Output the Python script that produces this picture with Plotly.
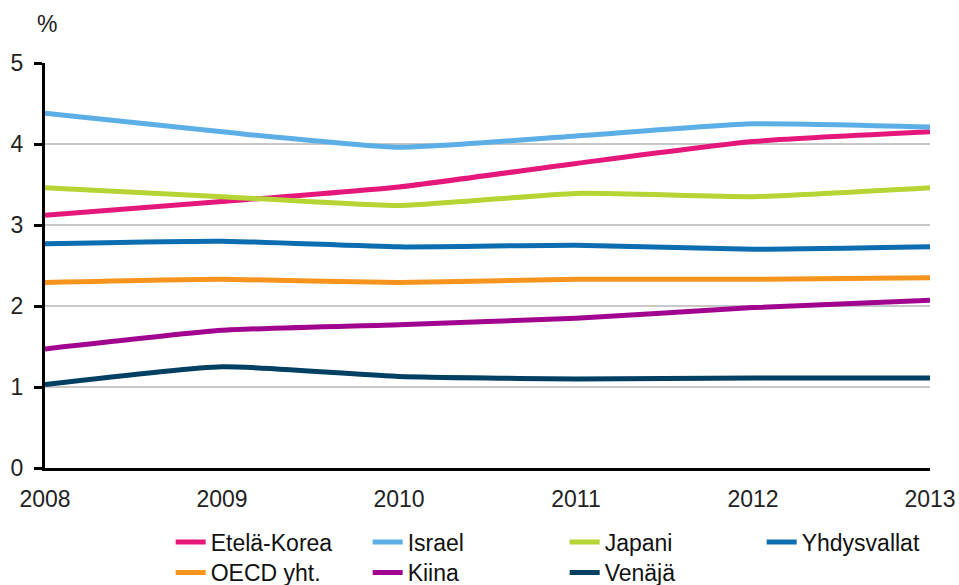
import plotly.graph_objects as go

years = [2008, 2009, 2010, 2011, 2012, 2013]
y_ticks = [0, 1, 2, 3, 4, 5]

series_names = ["Etelä-Korea", "Israel", "Japani", "Yhdysvallat", "OECD yht.", "Kiina", "Venäjä"]
etela_korea = [3.12, 3.29, 3.47, 3.76, 4.03, 4.15]
israel = [4.38, 4.15, 3.96, 4.10, 4.25, 4.21]
japani = [3.46, 3.35, 3.24, 3.39, 3.35, 3.46]
yhdysvallat = [2.77, 2.80, 2.73, 2.75, 2.70, 2.73]
oecd = [2.29, 2.33, 2.29, 2.33, 2.33, 2.35]
kiina = [1.47, 1.70, 1.77, 1.85, 1.98, 2.07]
venaja = [1.03, 1.25, 1.13, 1.10, 1.11, 1.11]

values = [etela_korea, israel, japani, yhdysvallat, oecd, kiina, venaja]
colors = ["#E5177B", "#5BAEE6", "#B6D433", "#0C6DB0", "#F7941E", "#A1058F", "#013F63"]
legend_ids = ["legend", "legend", "legend", "legend", "legend2", "legend2", "legend2"]

FONT = "Liberation Sans, Arial, sans-serif"
FS = 23

fig = go.Figure()
for name, vals, col, lg in zip(series_names, values, colors, legend_ids):
    fig.add_trace(go.Scatter(
        x=years, y=vals, name=name, mode="lines",
        line=dict(color=col, width=5, shape="spline", smoothing=0.5),
        legend=lg,
    ))

legend_common = dict(
    orientation="h", xanchor="left", yanchor="middle",
    entrywidth=152, entrywidthmode="pixels",
    font=dict(family=FONT, size=FS, color="#111"),
    bgcolor="rgba(0,0,0,0)", traceorder="normal",
)

fig.update_layout(
    width=959, height=585,
    margin=dict(l=45, r=29, t=63, b=117, autoexpand=False),
    paper_bgcolor="white", plot_bgcolor="white",
    font=dict(family=FONT, size=FS, color="#222"),
    legend=dict(x=0.142, y=-0.183, **legend_common),
    legend2=dict(x=0.142, y=-0.258, **legend_common),
    xaxis=dict(
        range=[2008, 2013], tickvals=years, ticktext=[str(y) for y in years],
        showgrid=False, zeroline=False, showline=True, linecolor="black", linewidth=3,
        ticks="", ticklabelstandoff=8, automargin=False,
        tickfont=dict(family=FONT, size=FS, color="#222"),
    ),
    yaxis=dict(
        range=[0, 5], tickvals=y_ticks,
        showgrid=True, gridcolor="#C8C8C8", gridwidth=2,
        zeroline=False, showline=True, linecolor="black", linewidth=3,
        ticks="outside", ticklen=8, tickwidth=3, tickcolor="black",
        ticklabelstandoff=6, automargin=False,
        tickfont=dict(family=FONT, size=FS, color="#222"),
    ),
    annotations=[dict(
        text="%", xref="paper", yref="paper", x=0.002, y=1.0, yshift=39,
        xanchor="center", yanchor="middle", showarrow=False,
        font=dict(family=FONT, size=FS, color="#222"),
    )],
)

fig.write_html(
    "out.html",
    config={"displayModeBar": False},
    post_script="document.body.style.margin='0';document.body.style.overflow='hidden';",
)
